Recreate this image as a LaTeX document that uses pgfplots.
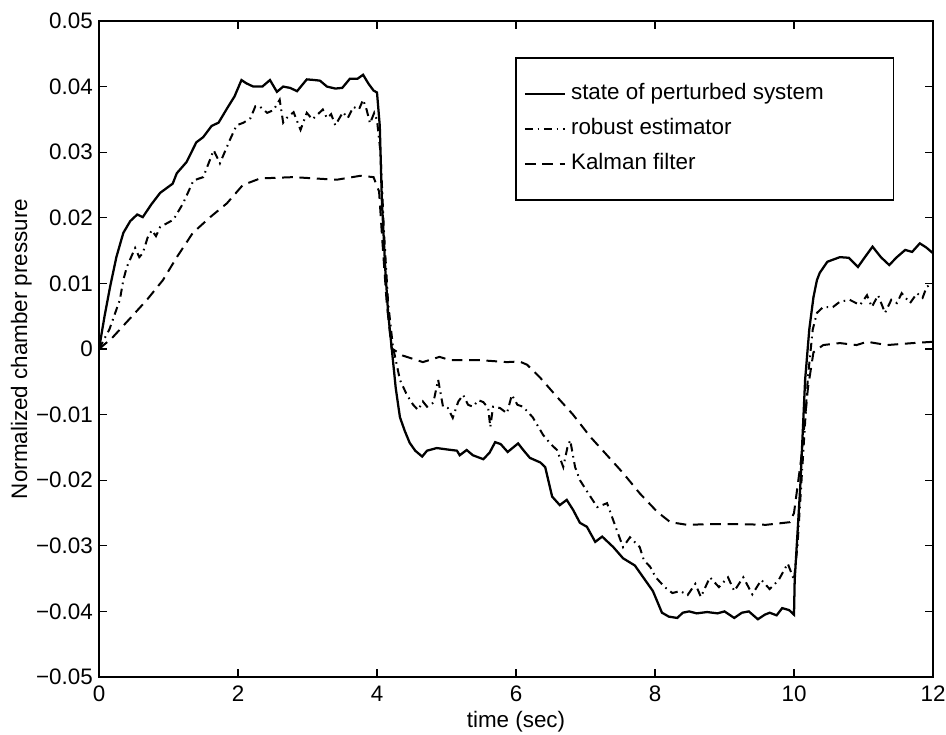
\documentclass[border=0pt]{standalone}
\usepackage{fontspec}
\setmainfont{Liberation Sans}
\usepackage{pgfplots}
\pgfplotsset{compat=1.18}
\newcommand\chartfont{\fontsize{16.8}{19}\selectfont}

\begin{document}
\begin{tikzpicture}
\begin{axis}[
  scale only axis, width=625.5pt, height=492pt,
  xmin=0, xmax=12, ymin=-0.05, ymax=0.05,
  xtick={0,2,4,6,8,10,12},
  ytick={-0.05,-0.04,-0.03,-0.02,-0.01,0,0.01,0.02,0.03,0.04,0.05},
  yticklabels={−0.05,−0.04,−0.03,−0.02,−0.01,0,0.01,0.02,0.03,0.04,0.05},
  scaled y ticks=false,
  /pgf/number format/assume math mode=true,
  tick align=inside, major tick length=6pt,
  tick style={black, line width=1pt},
  axis line style={line width=1.3pt},
  every tick label/.append style={font=\chartfont},
  xticklabel style={inner sep=0pt, yshift=-6.75pt},
  yticklabel style={inner sep=0pt, xshift=-4.5pt},
  every axis x label/.style={at={(rel axis cs:0.5,-0.0518)}, anchor=north, inner sep=0pt, font=\chartfont},
  every axis y label/.style={at={(rel axis cs:-0.0803,0.5)}, rotate=90, anchor=south, inner sep=0pt, font=\chartfont},
  xlabel={time (sec)},
  ylabel={Normalized chamber pressure},
  legend style={at={(0.4988,0.945)}, anchor=north west, draw=black, line width=1.2pt,
    inner xsep=6pt, inner ysep=15.5pt, row sep=3.25pt, font=\chartfont,
    nodes={text height=12pt, text depth=3.5pt, inner sep=3.75pt}},
  legend cell align=left,
  legend image code/.code={\draw[#1] (0pt,0pt) -- (30pt,0pt);},
]
\coordinate (bl) at (rel axis cs:0,0);
\coordinate (tr) at (rel axis cs:1,1);

% state of perturbed system
\addplot[black, line width=1.7pt] coordinates {
(0,0) (0.08,0.005) (0.16,0.0095) (0.25,0.014) (0.35,0.0177) (0.45,0.0195) (0.55,0.0205) (0.63,0.0201)
(0.75,0.022) (0.88,0.0238) (0.97,0.0245) (1.06,0.0252) (1.12,0.0268) (1.26,0.0285) (1.40,0.0315)
(1.50,0.0323) (1.62,0.0340) (1.72,0.0345) (1.85,0.0368) (1.95,0.0385) (2.05,0.0410) (2.12,0.0405)
(2.22,0.0400) (2.35,0.0400) (2.46,0.0410) (2.56,0.0392) (2.65,0.0400) (2.75,0.0398) (2.85,0.0393)
(2.99,0.0411) (3.10,0.0410) (3.18,0.0409) (3.28,0.0400) (3.40,0.0397) (3.50,0.0398) (3.61,0.0412)
(3.72,0.0412) (3.80,0.0418) (3.88,0.0404) (3.95,0.0394) (4.0,0.0391) (4.04,0.034) (4.07,0.0227)
(4.12,0.012) (4.16,0.0055) (4.21,0.0003) (4.27,-0.006) (4.33,-0.0104) (4.40,-0.0125) (4.47,-0.0143)
(4.55,-0.0155) (4.65,-0.0164) (4.72,-0.0155) (4.86,-0.0151) (5.0,-0.0153) (5.15,-0.0155) (5.19,-0.0162)
(5.29,-0.0154) (5.38,-0.0162) (5.53,-0.0168) (5.62,-0.0158) (5.70,-0.0142) (5.78,-0.0145) (5.88,-0.0157)
(6.03,-0.0144) (6.12,-0.0156) (6.20,-0.0166) (6.35,-0.0173) (6.42,-0.0180) (6.52,-0.0225) (6.63,-0.0238)
(6.73,-0.0230) (6.82,-0.0245) (6.92,-0.0265) (7.02,-0.0271) (7.14,-0.0294) (7.24,-0.0286) (7.40,-0.0302)
(7.54,-0.0319) (7.71,-0.0330) (7.83,-0.0348) (7.97,-0.0369) (8.10,-0.0402) (8.20,-0.0408) (8.32,-0.0410)
(8.40,-0.0402) (8.49,-0.0400) (8.60,-0.0403) (8.75,-0.0401) (8.90,-0.0403) (9.0,-0.0400) (9.14,-0.0410)
(9.25,-0.0402) (9.35,-0.0400) (9.48,-0.0412) (9.58,-0.0405) (9.65,-0.0402) (9.75,-0.0406) (9.83,-0.0395)
(9.93,-0.0398) (10.0,-0.0405) (10.01,-0.0352) (10.09,-0.0210) (10.16,-0.0047) (10.22,0.003) (10.28,0.0079)
(10.33,0.0105) (10.37,0.0116) (10.48,0.0133) (10.66,0.0140) (10.79,0.0139) (10.92,0.0125) (11.02,0.0140)
(11.13,0.0156) (11.25,0.0140) (11.37,0.0128) (11.48,0.0140) (11.60,0.0151) (11.70,0.0148) (11.81,0.0161)
(11.90,0.0155) (12.0,0.0146)};
\addlegendentry{\makebox[232pt][l]{state of perturbed system}}

% robust estimator
\addplot[black, line width=1.5pt, dash pattern=on 6pt off 3.5pt on 1.2pt off 3.5pt] coordinates {
(0,0) (0.15,0.003) (0.3,0.0075) (0.35,0.0105) (0.4,0.0125) (0.52,0.0154) (0.58,0.0140) (0.63,0.0146)
(0.70,0.0170) (0.76,0.0181) (0.82,0.0172) (0.88,0.0186) (1.07,0.0197) (1.21,0.0222) (1.36,0.0257)
(1.50,0.0262) (1.65,0.0303) (1.74,0.0283) (1.88,0.0318) (1.98,0.0341) (2.08,0.0345) (2.18,0.0352)
(2.25,0.0370) (2.32,0.0369) (2.42,0.0360) (2.51,0.0364) (2.6,0.038) (2.65,0.0345) (2.7,0.0352)
(2.8,0.0361) (2.9,0.0334) (2.99,0.036) (3.07,0.0350) (3.14,0.0357) (3.22,0.0365) (3.28,0.0352)
(3.34,0.0358) (3.4,0.0341) (3.51,0.0361) (3.58,0.0352) (3.66,0.0369) (3.74,0.0365) (3.80,0.038)
(3.85,0.0365) (3.9,0.0344) (3.96,0.0360) (4.0,0.0349) (4.05,0.030) (4.10,0.018) (4.16,0.007)
(4.23,0.0003) (4.33,-0.0047) (4.43,-0.0070) (4.52,-0.0085) (4.59,-0.0093) (4.66,-0.0080) (4.72,-0.0088)
(4.81,-0.0082) (4.88,-0.0047) (4.95,-0.0088) (5.02,-0.0090) (5.09,-0.0105) (5.17,-0.0080) (5.24,-0.0070)
(5.31,-0.0085) (5.38,-0.0088) (5.46,-0.0078) (5.53,-0.0081) (5.60,-0.0090) (5.63,-0.0119) (5.67,-0.0088)
(5.77,-0.0090) (5.87,-0.0098) (5.94,-0.0070) (6.02,-0.0085) (6.1,-0.0088) (6.24,-0.0104) (6.39,-0.0131)
(6.50,-0.0145) (6.59,-0.0154) (6.68,-0.0180) (6.74,-0.0150) (6.78,-0.0139) (6.85,-0.0180) (6.92,-0.0200)
(7.07,-0.0225) (7.17,-0.0241) (7.31,-0.0235) (7.45,-0.0276) (7.54,-0.0302) (7.64,-0.0287) (7.78,-0.0302)
(7.84,-0.0322) (7.93,-0.0332) (8.01,-0.0348) (8.14,-0.0363) (8.25,-0.0372) (8.36,-0.0369) (8.47,-0.0375)
(8.58,-0.0358) (8.66,-0.0378) (8.79,-0.0348) (8.92,-0.0363) (9.05,-0.0348) (9.14,-0.0369) (9.27,-0.0348)
(9.4,-0.0374) (9.53,-0.0352) (9.65,-0.0366) (9.78,-0.0352) (9.91,-0.0327) (10.0,-0.0352) (10.05,-0.030)
(10.12,-0.018) (10.20,-0.0043) (10.27,0.003) (10.33,0.0055) (10.42,0.0064) (10.56,0.0064) (10.66,0.0072)
(10.8,0.0075) (10.95,0.0067) (11.05,0.0082) (11.12,0.0064) (11.21,0.0082) (11.31,0.0055) (11.40,0.0075)
(11.48,0.0070) (11.55,0.0085) (11.67,0.0070) (11.77,0.0085) (11.85,0.0078) (11.91,0.0095) (12.0,0.0100)};
\addlegendentry{robust estimator}

% Kalman filter
\addplot[black, line width=1.5pt, dash pattern=on 8pt off 5pt] coordinates {
(0,0) (0.19,0.0017) (0.45,0.0047) (0.69,0.0075) (0.92,0.0105) (1.12,0.014) (1.35,0.0177) (1.6,0.0201)
(1.84,0.0222) (2.07,0.025) (2.32,0.026) (2.8,0.0262) (3.1,0.0260) (3.42,0.0258) (3.76,0.0264)
(3.95,0.0262) (4.03,0.024) (4.08,0.016) (4.14,0.007) (4.21,0.0001) (4.37,-0.001) (4.66,-0.0020)
(4.9,-0.0012) (5.05,-0.0017) (5.48,-0.0017) (5.87,-0.0020) (6.05,-0.0019) (6.16,-0.0024) (6.35,-0.0044)
(6.59,-0.0073) (6.82,-0.0100) (7.07,-0.0134) (7.31,-0.0162) (7.54,-0.0189) (7.78,-0.0220) (8.03,-0.0248)
(8.22,-0.0264) (8.46,-0.0268) (8.8,-0.0267) (9.2,-0.0267) (9.6,-0.0268) (9.94,-0.0264) (10.0,-0.0250)
(10.1,-0.017) (10.2,-0.006) (10.28,-0.0005) (10.42,0.0006) (10.66,0.0009) (10.9,0.0006) (11.05,0.0011)
(11.34,0.0006) (11.71,0.0009) (12.0,0.0011)};
\addlegendentry{Kalman filter}
\end{axis}
\pgfresetboundingbox
\path ([shift={(-74.25pt,-43.5pt)}]bl) rectangle ([shift={(9.75pt,15.75pt)}]tr);
\end{tikzpicture}
\end{document}
